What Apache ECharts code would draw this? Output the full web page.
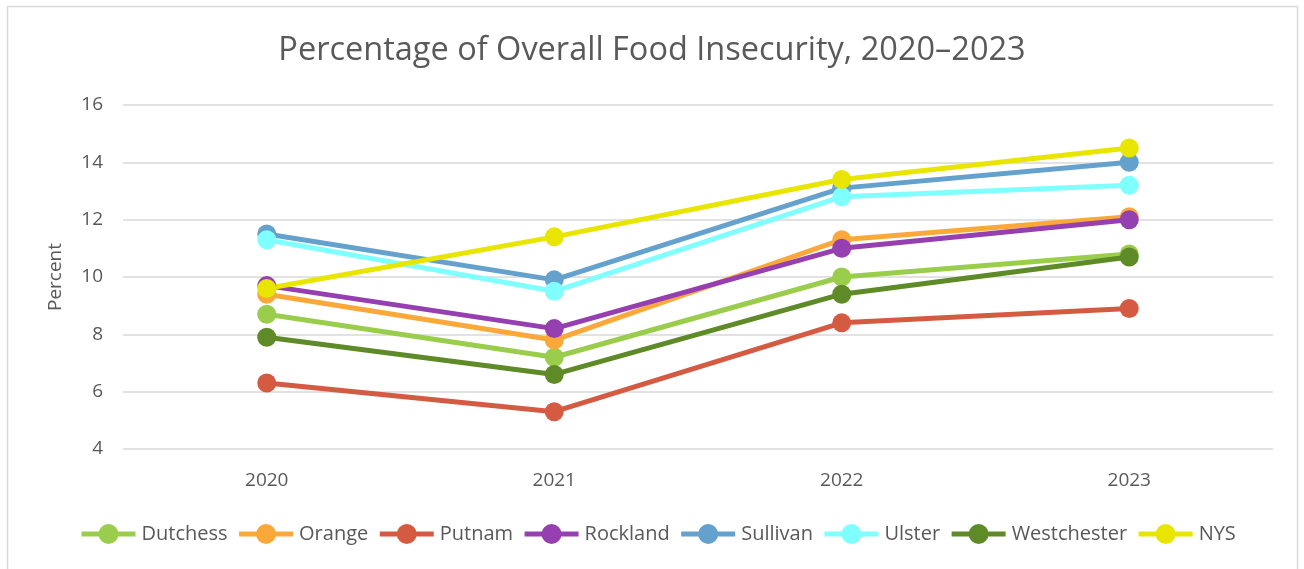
<!DOCTYPE html>
<html>
<head>
<meta charset="utf-8">
<title>Percentage of Overall Food Insecurity, 2020–2023</title>
<script src="https://cdn.jsdelivr.net/npm/echarts@6/dist/echarts.min.js"></script>
<style>
  html, body { margin: 0; padding: 0; background: #fff; }
  #chart { width: 1304px; height: 569px; }
</style>
</head>
<body>
<div id="chart"></div>
<script>
// data
const years = ['2020', '2021', '2022', '2023'];
const dutchess = [8.7, 7.2, 10.0, 10.8];
const orange = [9.4, 7.8, 11.3, 12.1];
const putnam = [6.3, 5.3, 8.4, 8.9];
const rockland = [9.7, 8.2, 11.0, 12.0];
const sullivan = [11.5, 9.9, 13.1, 14.0];
const ulster = [11.3, 9.5, 12.8, 13.2];
const westchester = [7.9, 6.6, 9.4, 10.7];
const nys = [9.6, 11.4, 13.4, 14.5];

const seriesList = [
    { name: 'Dutchess', data: dutchess, color: '#9ACD4C' },
    { name: 'Orange', data: orange, color: '#FBA83B' },
    { name: 'Putnam', data: putnam, color: '#D45B41' },
    { name: 'Rockland', data: rockland, color: '#963FB0' },
    { name: 'Sullivan', data: sullivan, color: '#64A1CC' },
    { name: 'Ulster', data: ulster, color: '#80FFFF' },
    { name: 'Westchester', data: westchester, color: '#5E8A27' },
    { name: 'NYS', data: nys, color: '#E8E600' }
];

const textColor = '#595959';
const fontFamily = '"Open Sans", Lato, sans-serif';

const chart = echarts.init(document.getElementById('chart'));
chart.setOption({
    animation: false,
    backgroundColor: '#fff',
    textStyle: { fontFamily: fontFamily },
    graphic: [{
        type: 'rect',
        shape: { x: 7.5, y: 6.5, width: 1290, height: 600 },
        style: { fill: 'none', stroke: '#d9d9d9', lineWidth: 1.5 },
        silent: true
    }],
    title: {
        text: 'Percentage of Overall Food Insecurity, 2020–2023',
        left: 'center',
        top: 29,
        textStyle: { color: textColor, fontSize: 32.5, fontWeight: 'normal', fontFamily: fontFamily }
    },
    legend: {
        top: 519,
        left: 74,
        itemWidth: 54,
        itemHeight: 25,
        itemGap: 9,
        lineStyle: { width: 5 },
        textStyle: { color: textColor, fontSize: 20, fontFamily: fontFamily, padding: [0, 0, 0, 1] },
        data: seriesList.map(s => s.name)
    },
    grid: { left: 123, right: 31, top: 105, bottom: 120 },
    xAxis: {
        type: 'category',
        data: years,
        boundaryGap: true,
        axisLine: { show: false },
        axisTick: { show: false },
        axisLabel: { color: textColor, fontSize: 19, margin: 22 }
    },
    yAxis: {
        type: 'value',
        min: 4,
        max: 16,
        interval: 2,
        name: 'Percent',
        nameLocation: 'middle',
        nameGap: 58,
        nameRotate: 90,
        nameTextStyle: { color: textColor, fontSize: 19 },
        axisLine: { show: false },
        axisTick: { show: false },
        axisLabel: { color: textColor, fontSize: 19, margin: 20 },
        splitLine: { lineStyle: { color: '#d9d9d9', width: 1.5 } }
    },
    series: seriesList.map(s => ({
        name: s.name,
        type: 'line',
        data: s.data,
        symbol: 'circle',
        symbolSize: 19,
        color: s.color,
        itemStyle: { color: s.color },
        lineStyle: { color: s.color, width: 5 }
    }))
});
</script>
</body>
</html>
